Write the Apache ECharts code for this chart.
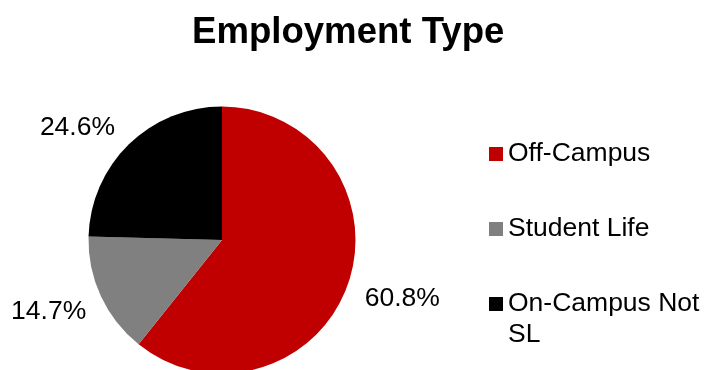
<!DOCTYPE html>
<html>
<head>
<meta charset="utf-8">
<script src="https://cdn.jsdelivr.net/npm/echarts@6/dist/echarts.min.js"></script>
<style>
  html, body { margin: 0; padding: 0; background: #fff; }
  #chart { width: 706px; height: 370px; }
</style>
</head>
<body>
<div id="chart"></div>
<script>
// Employment type shares (percent)
const categories = ['Off-Campus', 'Student Life', 'On-Campus Not SL'];
const shares = [60.8, 14.7, 24.6];
const sliceColors = ['#C00000', '#808080', '#000000'];

const FONT = 'Liberation Sans, Arial, sans-serif';
const LABEL_SIZE = 26.5;
const LINE_H = 31;

const pieData = categories.map((name, i) => ({
  name: name,
  value: shares[i],
  itemStyle: { color: sliceColors[i] }
}));

const center = [222, 240];
const legendTops = [138.5, 213.5, 257.5];
// small nudges so the percentage labels sit where a best-fit layout puts them
const labelNudge = [[1, -4], [-1, -8], [-12, 24]];

const chart = echarts.init(document.getElementById('chart'), null, { renderer: 'canvas' });
chart.setOption({
  animation: false,
  backgroundColor: '#ffffff',
  title: {
    text: 'Employment Type',
    left: 192,
    top: 14,
    padding: 0,
    textStyle: { fontFamily: FONT, fontSize: 36.6, fontWeight: 'bold', color: '#000' }
  },
  legend: categories.map((name, i) => ({
    data: [name],
    orient: 'vertical',
    left: 489,
    top: legendTops[i],
    padding: 0,
    icon: 'rect',
    itemWidth: 14,
    itemHeight: 14,
    itemGap: 0,
    selectedMode: false,
    // the long entry wraps its last word; an empty first row keeps its
    // first line level with the swatch
    formatter: (n) => (i === 2 ? ' \n' + n.replace(/ (\S+)$/, '\n$1') : n),
    textStyle: {
      fontFamily: FONT,
      fontSize: LABEL_SIZE,
      color: '#000',
      lineHeight: LINE_H
    }
  })),
  series: [
    {
      type: 'pie',
      center: center,
      radius: 133.5,
      startAngle: 90,
      clockwise: true,
      silent: true,
      label: { show: false },
      labelLine: { show: false },
      itemStyle: { borderWidth: 0 },
      data: pieData
    },
    {
      // transparent ring that carries the percentage labels outside the pie
      type: 'pie',
      center: center,
      radius: [150, 224],
      startAngle: 90,
      clockwise: true,
      silent: true,
      legendHoverLink: false,
      itemStyle: { color: 'rgba(0,0,0,0)', borderWidth: 0 },
      label: {
        show: true,
        position: 'inside',
        formatter: '{c}%',
        fontFamily: FONT,
        fontSize: LABEL_SIZE,
        color: '#000'
      },
      labelLayout: (p) => ({ dx: labelNudge[p.dataIndex][0], dy: labelNudge[p.dataIndex][1] }),
      labelLine: { show: false },
      data: categories.map((name, i) => ({ name: name + ' ', value: shares[i] }))
    }
  ]
});
</script>
</body>
</html>
